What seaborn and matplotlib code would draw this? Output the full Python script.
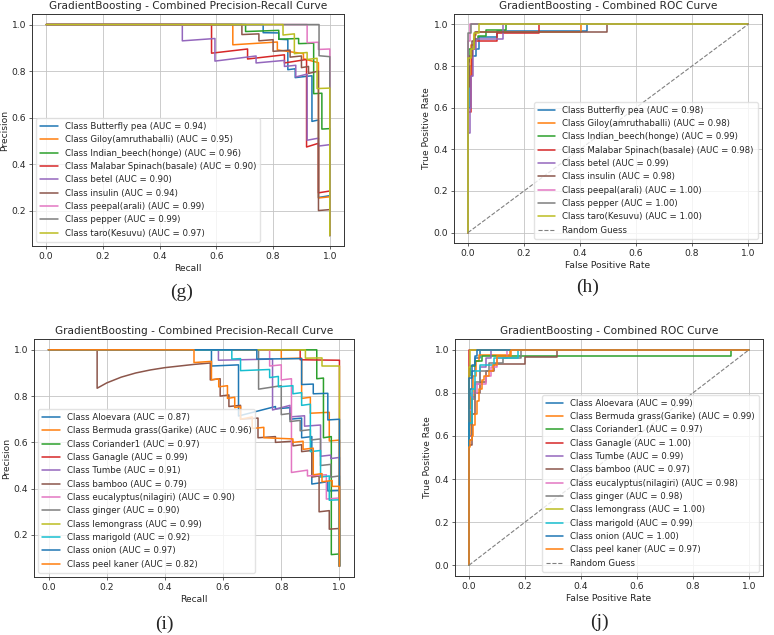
import numpy as np
import pandas as pd
import seaborn as sns
import matplotlib.pyplot as plt

# --- data ---

# (g) precision-recall, 9 classes
g_classes = ["Butterfly pea", "Giloy(amruthaballi)", "Indian_beech(honge)",
             "Malabar Spinach(basale)", "betel", "insulin", "peepal(arali)",
             "pepper", "taro(Kesuvu)"]
g_auc = [0.94, 0.95, 0.96, 0.90, 0.90, 0.94, 0.99, 0.99, 0.97]
g_recall = [
    [0, 0.765, 0.765, 0.82, 0.82, 0.852, 0.852, 0.878, 0.878, 0.937, 0.937, 0.96, 0.96, 1.0, 1.0],
    [0, 0.658, 0.658, 0.815, 0.815, 0.907, 0.907, 0.96, 0.96, 1.0, 1.0],
    [0, 0.703, 0.703, 0.82, 0.82, 0.89, 0.89, 0.943, 0.943, 0.972, 0.972, 1.0, 1.0],
    [0, 0.583, 0.583, 0.71, 0.71, 0.84, 0.84, 0.918, 0.918, 0.96, 0.96, 1.0, 1.0],
    [0, 0.48, 0.48, 0.595, 0.595, 0.74, 0.74, 0.84, 0.84, 0.88, 0.88, 0.92, 0.92, 0.96, 0.96, 1.0, 1.0],
    [0, 0.69, 0.69, 0.75, 0.75, 0.80, 0.80, 0.86, 0.86, 0.90, 0.90, 0.925, 0.925, 0.96, 0.96, 1.0, 1.0],
    [0, 0.92, 0.92, 0.96, 0.96, 1.0, 1.0],
    [0, 0.962, 0.962, 1.0, 1.0],
    [0, 0.835, 0.835, 0.875, 0.875, 0.92, 0.92, 0.955, 0.955, 1.0, 1.0],
]
g_precision = [
    [1, 1, 0.965, 0.964, 0.937, 0.935, 0.806, 0.81, 0.772, 0.78, 0.584, 0.59, 0.257, 0.265, 0.094],
    [1, 1, 0.913, 0.925, 0.891, 0.875, 0.853, 0.836, 0.255, 0.26, 0.094],
    [1, 1, 0.97, 0.975, 0.937, 0.94, 0.918, 0.92, 0.703, 0.705, 0.551, 0.553, 0.094],
    [1, 1, 0.877, 0.895, 0.852, 0.87, 0.835, 0.85, 0.474, 0.49, 0.277, 0.285, 0.094],
    [1, 1, 0.93, 0.94, 0.843, 0.865, 0.835, 0.846, 0.82, 0.825, 0.775, 0.787, 0.503, 0.512, 0.478, 0.484, 0.094],
    [1, 1, 0.957, 0.96, 0.93, 0.935, 0.885, 0.89, 0.86, 0.865, 0.815, 0.82, 0.79, 0.80, 0.201, 0.205, 0.094],
    [1, 1, 0.922, 0.924, 0.893, 0.895, 0.094],
    [1, 1, 0.866, 0.862, 0.094],
    [1, 1, 0.955, 0.96, 0.875, 0.88, 0.85, 0.855, 0.725, 0.727, 0.094],
]

# (h) ROC, same 9 classes
h_auc = [0.98, 0.98, 0.99, 0.98, 0.99, 0.98, 1.00, 1.00, 1.00]
h_fpr = [
    [0, 0, 0.008, 0.008, 0.015, 0.015, 0.03, 0.03, 0.04, 0.04, 0.105, 0.105, 0.425, 0.425, 1],
    [0, 0, 0.01, 0.01, 0.02, 0.02, 0.03, 0.03, 0.405, 0.405, 1],
    [0, 0, 0.005, 0.005, 0.02, 0.02, 0.035, 0.035, 0.065, 0.065, 0.135, 0.135, 1],
    [0, 0, 0.01, 0.01, 0.015, 0.015, 0.025, 0.025, 0.105, 0.105, 0.255, 0.255, 1],
    [0, 0, 0.008, 0.008, 0.012, 0.012, 0.018, 0.018, 0.03, 0.03, 0.125, 0.125, 1],
    [0, 0, 0.005, 0.005, 0.015, 0.015, 0.025, 0.025, 0.495, 0.495, 1],
    [0, 0, 0.008, 0.008, 1],
    [0, 0, 0.012, 0.012, 1],
    [0, 0, 0.01, 0.01, 0.02, 0.02, 0.04, 0.04, 1],
]
h_tpr = [
    [0, 0.6, 0.6, 0.8, 0.8, 0.85, 0.85, 0.88, 0.88, 0.94, 0.94, 0.97, 0.97, 1, 1],
    [0, 0.75, 0.75, 0.9, 0.9, 0.95, 0.95, 0.965, 0.965, 1, 1],
    [0, 0.82, 0.82, 0.88, 0.88, 0.93, 0.93, 0.945, 0.945, 0.975, 0.975, 1, 1],
    [0, 0.58, 0.58, 0.75, 0.75, 0.88, 0.88, 0.92, 0.92, 0.96, 0.96, 1, 1],
    [0, 0.48, 0.48, 0.6, 0.6, 0.75, 0.75, 0.88, 0.88, 0.93, 0.93, 1, 1],
    [0, 0.7, 0.7, 0.85, 0.85, 0.92, 0.92, 0.965, 0.965, 1, 1],
    [0, 0.92, 0.92, 1, 1],
    [0, 0.96, 0.96, 1, 1],
    [0, 0.84, 0.84, 0.88, 0.88, 0.96, 0.96, 1, 1],
]

# (i) precision-recall, 12 classes
i_classes = ["Aloevara", "Bermuda grass(Garike)", "Coriander1", "Ganagle", "Tumbe",
             "bamboo", "eucalyptus(nilagiri)", "ginger", "lemongrass", "marigold",
             "onion", "peel kaner"]
i_auc = [0.87, 0.96, 0.97, 0.99, 0.91, 0.79, 0.90, 0.90, 0.99, 0.92, 0.97, 0.82]
i_recall = [
    [0, 0.56, 0.56, 0.653, 0.653, 0.78, 0.78, 0.83, 0.83, 0.87, 0.87, 0.905, 0.905, 0.96, 0.96, 1.0, 1.0],
    [0, 0.80, 0.80, 0.87, 0.87, 0.90, 0.90, 0.965, 0.965, 1.0, 1.0],
    [0, 0.922, 0.922, 0.945, 0.945, 0.972, 0.972, 1.0, 1.0],
    [0, 0.865, 0.865, 1.0, 1.0],
    [0, 0.584, 0.584, 0.77, 0.77, 0.83, 0.83, 0.88, 0.88, 0.935, 0.935, 0.97, 0.97, 1.0, 1.0],
    [0, 0.167, 0.167, 0.2, 0.25, 0.3, 0.35, 0.4, 0.45, 0.5, 0.556, 0.556, 0.59, 0.59, 0.62, 0.62,
     0.66, 0.66, 0.72, 0.72, 0.78, 0.78, 0.84, 0.84, 0.87, 0.87, 0.905, 0.905, 0.93, 0.93,
     0.965, 0.965, 1.0, 1.0],
    [0, 0.76, 0.76, 0.80, 0.80, 0.835, 0.835, 0.89, 0.89, 0.955, 0.955, 1.0, 1.0],
    [0, 0.722, 0.722, 0.80, 0.80, 0.83, 0.83, 0.865, 0.865, 0.90, 0.90, 0.935, 0.935, 0.97, 0.97, 1.0, 1.0],
    [0, 0.883, 0.883, 0.94, 0.94, 1.0, 1.0],
    [0, 0.63, 0.63, 0.66, 0.66, 0.76, 0.76, 0.79, 0.79, 0.84, 0.84, 0.87, 0.87, 0.90, 0.90,
     0.935, 0.935, 0.965, 0.965, 1.0, 1.0],
    [0, 0.716, 0.716, 0.87, 0.87, 0.91, 0.91, 0.96, 0.96, 1.0, 1.0],
    [0, 0.50, 0.50, 0.56, 0.56, 0.585, 0.585, 0.615, 0.615, 0.64, 0.64, 0.66, 0.66, 0.70, 0.70,
     0.74, 0.74, 0.84, 0.84, 0.875, 0.875, 0.91, 0.91, 0.94, 0.94, 0.975, 0.975, 1.0, 1.0],
]
i_precision = [
    [1, 1, 0.93, 0.935, 0.714, 0.755, 0.745, 0.75, 0.70, 0.705, 0.62, 0.625, 0.42, 0.43, 0.39, 0.392, 0.065],
    [1, 1, 0.962, 0.964, 0.79, 0.795, 0.726, 0.73, 0.606, 0.61, 0.065],
    [1, 1, 0.875, 0.878, 0.62, 0.625, 0.115, 0.118, 0.065],
    [1, 1, 0.957, 0.955, 0.065],
    [1, 1, 0.955, 0.96, 0.74, 0.76, 0.71, 0.715, 0.67, 0.675, 0.54, 0.545, 0.53, 0.535, 0.065],
    [1, 1, 0.834, 0.857, 0.882, 0.9, 0.913, 0.923, 0.93, 0.937, 0.943, 0.87, 0.875, 0.80, 0.805,
     0.755, 0.76, 0.70, 0.705, 0.62, 0.625, 0.60, 0.605, 0.585, 0.59, 0.56, 0.565, 0.45, 0.455,
     0.30, 0.305, 0.225, 0.228, 0.065],
    [1, 1, 0.93, 0.935, 0.87, 0.875, 0.47, 0.48, 0.455, 0.46, 0.355, 0.36, 0.065],
    [1, 1, 0.83, 0.845, 0.72, 0.725, 0.69, 0.695, 0.65, 0.655, 0.61, 0.615, 0.50, 0.505, 0.45, 0.455, 0.065],
    [1, 1, 0.964, 0.965, 0.93, 0.93, 0.065],
    [1, 1, 0.96, 0.962, 0.91, 0.915, 0.88, 0.885, 0.84, 0.845, 0.81, 0.815, 0.76, 0.765, 0.56,
     0.565, 0.45, 0.455, 0.35, 0.352, 0.065],
    [1, 1, 0.96, 0.962, 0.85, 0.852, 0.81, 0.812, 0.697, 0.70, 0.065],
    [1, 1, 0.945, 0.95, 0.87, 0.875, 0.84, 0.845, 0.79, 0.795, 0.75, 0.755, 0.70, 0.71, 0.66,
     0.665, 0.62, 0.615, 0.60, 0.605, 0.57, 0.575, 0.46, 0.465, 0.43, 0.435, 0.41, 0.41, 0.065],
]

# (j) ROC, same 12 classes
j_auc = [0.99, 0.99, 0.97, 1.00, 0.99, 0.97, 0.98, 0.98, 1.00, 0.99, 1.00, 0.97]
j_fpr = [
    [0, 0, 0.005, 0.005, 0.01, 0.01, 0.02, 0.02, 0.04, 0.04, 1],
    [0, 0, 0.008, 0.008, 0.015, 0.015, 0.025, 0.025, 0.035, 0.035, 0.145, 0.145, 1],
    [0, 0, 0.005, 0.005, 0.02, 0.02, 0.045, 0.045, 0.937, 0.937, 1],
    [0, 0, 1],
    [0, 0, 0.01, 0.01, 0.02, 0.02, 0.04, 0.04, 0.06, 0.06, 0.08, 0.08, 1],
    [0, 0, 0.01, 0.01, 0.02, 0.02, 0.04, 0.04, 0.06, 0.06, 0.09, 0.09, 0.2, 0.2, 0.315, 0.315, 1],
    [0, 0, 0.01, 0.01, 0.03, 0.03, 0.06, 0.06, 0.08, 0.08, 0.1, 0.1, 0.135, 0.135, 1],
    [0, 0, 0.01, 0.01, 0.02, 0.02, 0.04, 0.04, 0.07, 0.07, 0.12, 0.12, 0.185, 0.185, 1],
    [0, 0, 0.003, 0.003, 1],
    [0, 0, 0.01, 0.01, 0.02, 0.02, 0.04, 0.04, 0.09, 0.09, 0.175, 0.175, 1],
    [0, 0, 0.01, 0.01, 0.02, 0.02, 0.03, 0.03, 1],
    [0, 0, 0.005, 0.005, 0.01, 0.01, 0.015, 0.015, 0.02, 0.02, 0.028, 0.028, 0.035, 0.035,
     0.045, 0.045, 0.055, 0.055, 0.07, 0.07, 0.085, 0.085, 0.1, 0.1, 0.15, 0.15, 1],
]
j_tpr = [
    [0, 0.65, 0.65, 0.82, 0.82, 0.9, 0.9, 0.96, 0.96, 1, 1],
    [0, 0.6, 0.6, 0.78, 0.78, 0.88, 0.88, 0.95, 0.95, 0.975, 0.975, 1, 1],
    [0, 0.88, 0.88, 0.925, 0.925, 0.95, 0.95, 0.97, 0.97, 1, 1],
    [0, 1, 1],
    [0, 0.6, 0.6, 0.78, 0.78, 0.84, 0.84, 0.92, 0.92, 0.96, 0.96, 1, 1],
    [0, 0.56, 0.56, 0.7, 0.7, 0.8, 0.8, 0.85, 0.85, 0.9, 0.9, 0.935, 0.935, 0.965, 0.965, 1, 1],
    [0, 0.72, 0.72, 0.8, 0.8, 0.84, 0.84, 0.88, 0.88, 0.92, 0.92, 0.96, 0.96, 1, 1],
    [0, 0.58, 0.58, 0.77, 0.77, 0.85, 0.85, 0.9, 0.9, 0.94, 0.94, 0.96, 0.96, 1, 1],
    [0, 0.92, 0.92, 1, 1],
    [0, 0.66, 0.66, 0.82, 0.82, 0.9, 0.9, 0.93, 0.93, 0.96, 0.96, 1, 1],
    [0, 0.87, 0.87, 0.93, 0.93, 0.97, 0.97, 1, 1],
    [0, 0.55, 0.55, 0.58, 0.58, 0.6, 0.6, 0.65, 0.65, 0.7, 0.7, 0.76, 0.76, 0.82, 0.82, 0.86,
     0.86, 0.88, 0.88, 0.9, 0.9, 0.93, 0.93, 0.97, 0.97, 1, 1],
]

diag = [0, 1]
axis_ticks = [0.0, 0.2, 0.4, 0.6, 0.8, 1.0]

# --- style ---
sns.set_theme(style="ticks")
plt.rcParams['font.family'] = ['DejaVu Sans']
base = sns.color_palette("tab10")

FS = 6.6
LEG_FS = 6.25


def draw_panel(ax, classes, aucs, xs, ys, title, xlabel, ylabel, loc, roc=False):
    for k, name in enumerate(classes):
        df = pd.DataFrame({"x": xs[k], "y": ys[k]})
        sns.lineplot(data=df, x="x", y="y", sort=False, estimator=None, ax=ax,
                     color=base[k % 10], lw=1.1,
                     label=f"Class {name} (AUC = {aucs[k]:.2f})")
    if roc:
        sns.lineplot(x=diag, y=diag, sort=False, estimator=None, ax=ax,
                     color="gray", lw=0.8, linestyle="--", label="Random Guess")
    ax.set_xticks(axis_ticks)
    ax.set_title(title, fontsize=7.6, pad=3.5)
    ax.set_xlabel(xlabel, fontsize=FS, labelpad=2)
    ax.set_ylabel(ylabel, fontsize=FS, labelpad=2)
    ax.tick_params(labelsize=FS, length=2.2, width=0.5, pad=2)
    ax.grid(True, color="#c4c4c4", lw=0.6)
    for sp in ax.spines.values():
        sp.set_color("#333333")
        sp.set_linewidth(0.7)
    ax.legend(loc=loc, fontsize=LEG_FS, labelspacing=0.5, handlelength=2.0,
              borderpad=0.45, framealpha=0.8, edgecolor="#dddddd", fancybox=True)


fig = plt.figure(figsize=(7.74, 6.35), dpi=100)
W, H = 774, 635


def box(l, t, r, b):
    return [l / W, 1 - b / H, (r - l) / W, (b - t) / H]


ax_g = fig.add_axes(box(32, 14, 344, 246))
ax_h = fig.add_axes(box(454, 14, 762, 243))
ax_i = fig.add_axes(box(34, 339, 354, 577))
ax_j = fig.add_axes(box(455, 339, 763, 576))

draw_panel(ax_g, g_classes, g_auc, g_recall, g_precision,
           "GradientBoosting - Combined Precision-Recall Curve", "Recall", "Precision", "lower left")
draw_panel(ax_h, g_classes, h_auc, h_fpr, h_tpr,
           "GradientBoosting - Combined ROC Curve", "False Positive Rate", "True Positive Rate",
           "lower right", roc=True)
draw_panel(ax_i, i_classes, i_auc, i_recall, i_precision,
           "GradientBoosting - Combined Precision-Recall Curve", "Recall", "Precision", "lower left")
draw_panel(ax_j, i_classes, j_auc, j_fpr, j_tpr,
           "GradientBoosting - Combined ROC Curve", "False Positive Rate", "True Positive Rate",
           "lower right", roc=True)

# panel captions
for txt, x, y in [("(g)", 182, 292), ("(h)", 588, 287), ("(i)", 164, 624), ("(j)", 599, 622)]:
    fig.text(x / W, 1 - y / H, txt, family="Liberation Serif", fontsize=14,
             ha="center", va="center")

fig.savefig("out.png", dpi=100)
